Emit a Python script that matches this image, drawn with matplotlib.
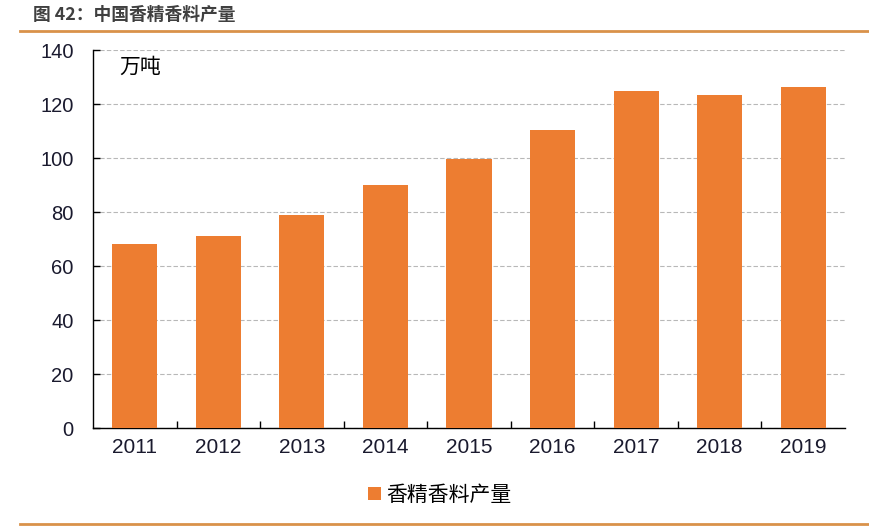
import matplotlib
matplotlib.use("Agg")
import matplotlib.pyplot as plt
from matplotlib.patches import Patch
from matplotlib.lines import Line2D

plt.rcParams['font.family'] = ['Noto Sans CJK SC', 'DejaVu Sans']

years = ['2011', '2012', '2013', '2014', '2015', '2016', '2017', '2018', '2019']
production = [68, 71.1, 78.9, 90.0, 99.6, 110.2, 124.8, 123.3, 126.3]
yticks = [0, 20, 40, 60, 80, 100, 120, 140]

orange = '#ED7D31'
txt = '#1a1a2e'

fig = plt.figure(figsize=(8.69, 5.31), dpi=100)
ax = fig.add_axes([93/869, 1-428/531, (845-93)/869, (428-50)/531])

x = list(range(len(years)))
ax.bar(x, production, width=0.54, color=orange, zorder=3)
ax.set_xlim(-0.5, len(years)-0.5)
ax.set_ylim(0, 140)
ax.set_yticks(yticks)
ax.set_yticklabels([str(v) for v in yticks], fontsize=14.5, color=txt, family=['Liberation Sans', 'DejaVu Sans'])
ax.set_xticks(x)
ax.set_xticklabels(years, fontsize=15, color=txt, family=['Liberation Sans', 'DejaVu Sans'])
ax.tick_params(axis='x', length=0, pad=7)
ax.tick_params(axis='y', direction='in', length=5, width=1, pad=14)
# minor ticks between categories on x axis
ax.set_xticks([i + 0.5 for i in range(len(years)-1)], minor=True)
ax.tick_params(axis='x', which='minor', direction='in', length=5, width=1)

for s in ['top', 'right']:
    ax.spines[s].set_visible(False)
for s in ['left', 'bottom']:
    ax.spines[s].set_color('black')
    ax.spines[s].set_linewidth(1)

ax.yaxis.grid(True, linestyle=(0, (4, 2)), color='#b8b8b8', linewidth=0.8, zorder=0)
ax.set_axisbelow(True)

ax.text(0.035, 0.985, '万吨', transform=ax.transAxes, fontsize=15, color='black', va='top', ha='left')

# Title
fig.text(33/869, 1-15/531, '图 42：中国香精香料产量', fontsize=12.8, fontweight='bold', color='#404040', va='center', ha='left')
fig.add_artist(Line2D([20/869, 1.0], [1-31/531, 1-31/531], color='#D9924A', linewidth=2, transform=fig.transFigure))
fig.add_artist(Line2D([20/869, 1.0], [1-524/531, 1-524/531], color='#D9924A', linewidth=2, transform=fig.transFigure))

# Legend
handles = [Patch(facecolor=orange, edgecolor='none', label='香精香料产量')]
fig.legend(handles=handles, loc='center', bbox_to_anchor=(440/869, 1-495/531), frameon=False,
           fontsize=15, handlelength=0.6, handleheight=0.6, handletextpad=0.3)

fig.savefig('out.png', dpi=100)
